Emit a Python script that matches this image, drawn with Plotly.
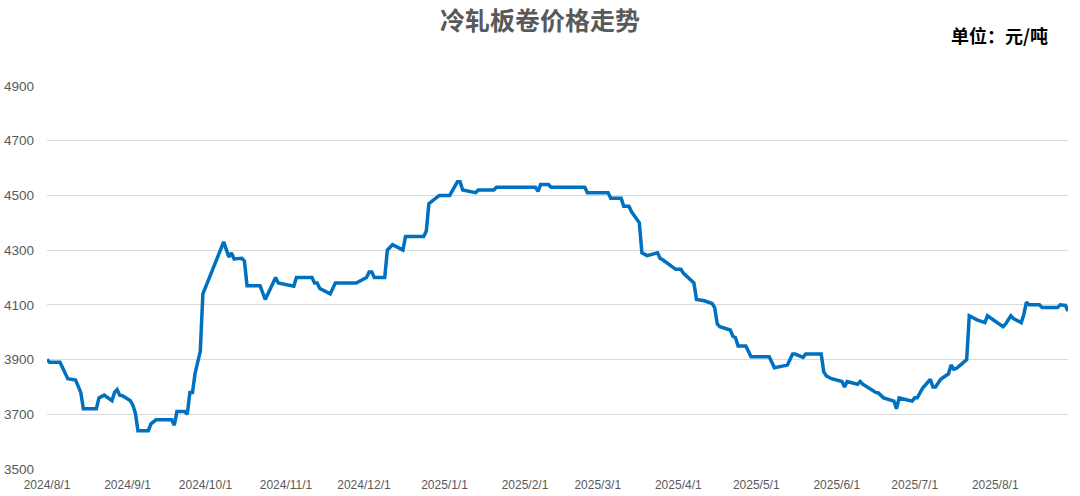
import plotly.graph_objects as go

dates = [
    "2024-08-01", "2024-08-02", "2024-08-06", "2024-08-09", "2024-08-12", "2024-08-13", "2024-08-14", "2024-08-15",
    "2024-08-20", "2024-08-21", "2024-08-23", "2024-08-26", "2024-08-27", "2024-08-28", "2024-08-29", "2024-08-30",
    "2024-09-02", "2024-09-03", "2024-09-04", "2024-09-05", "2024-09-09", "2024-09-10", "2024-09-12", "2024-09-18",
    "2024-09-19", "2024-09-20", "2024-09-23", "2024-09-24", "2024-09-25", "2024-09-26", "2024-09-27", "2024-09-29",
    "2024-09-30", "2024-10-08", "2024-10-10", "2024-10-11", "2024-10-12", "2024-10-15", "2024-10-16", "2024-10-17",
    "2024-10-22", "2024-10-24", "2024-10-28", "2024-10-29", "2024-11-01", "2024-11-04", "2024-11-05", "2024-11-11",
    "2024-11-12", "2024-11-13", "2024-11-14", "2024-11-18", "2024-11-20", "2024-11-28", "2024-12-02", "2024-12-03",
    "2024-12-04", "2024-12-05", "2024-12-09", "2024-12-10", "2024-12-12", "2024-12-16", "2024-12-17", "2024-12-24",
    "2024-12-25", "2024-12-26", "2024-12-30", "2025-01-03", "2025-01-06", "2025-01-07", "2025-01-08", "2025-01-13",
    "2025-01-14", "2025-01-20", "2025-01-21", "2025-02-05", "2025-02-06", "2025-02-07", "2025-02-10", "2025-02-11",
    "2025-02-24", "2025-02-25", "2025-03-05", "2025-03-06", "2025-03-10", "2025-03-11", "2025-03-13", "2025-03-14",
    "2025-03-17", "2025-03-18", "2025-03-20", "2025-03-24", "2025-03-25", "2025-03-26", "2025-03-31", "2025-04-02",
    "2025-04-03", "2025-04-07", "2025-04-08", "2025-04-11", "2025-04-14", "2025-04-15", "2025-04-16", "2025-04-17",
    "2025-04-21", "2025-04-22", "2025-04-23", "2025-04-24", "2025-04-27", "2025-04-29", "2025-05-06", "2025-05-07",
    "2025-05-08", "2025-05-12", "2025-05-13", "2025-05-15", "2025-05-16", "2025-05-19", "2025-05-20", "2025-05-26",
    "2025-05-27", "2025-05-28", "2025-05-30", "2025-06-03", "2025-06-04", "2025-06-05", "2025-06-09", "2025-06-10",
    "2025-06-11", "2025-06-16", "2025-06-17", "2025-06-19", "2025-06-23", "2025-06-24", "2025-06-25", "2025-06-27",
    "2025-06-30", "2025-07-01", "2025-07-02", "2025-07-03", "2025-07-04", "2025-07-07", "2025-07-08", "2025-07-09",
    "2025-07-11", "2025-07-14", "2025-07-15", "2025-07-16", "2025-07-17", "2025-07-18", "2025-07-21", "2025-07-22",
    "2025-07-25", "2025-07-28", "2025-07-29", "2025-08-04", "2025-08-05", "2025-08-07", "2025-08-08", "2025-08-11",
    "2025-08-12", "2025-08-13", "2025-08-14", "2025-08-18", "2025-08-19", "2025-08-25", "2025-08-26", "2025-08-28",
    "2025-08-29",
]

prices = [
    3900, 3890, 3890, 3830, 3825, 3805, 3780, 3720,
    3720, 3760, 3770, 3750, 3780, 3790, 3770, 3768,
    3750, 3735, 3705, 3640, 3640, 3665, 3680, 3680,
    3660, 3710, 3710, 3700, 3780, 3780, 3850, 3930,
    4140, 4330, 4275, 4290, 4268, 4270, 4260, 4170,
    4170, 4120, 4200, 4180, 4175, 4168, 4200, 4200,
    4180, 4180, 4160, 4140, 4180, 4180, 4200, 4220,
    4220, 4200, 4200, 4300, 4320, 4300, 4350, 4350,
    4370, 4470, 4500, 4500, 4550, 4550, 4520, 4510,
    4520, 4520, 4530, 4530, 4515, 4540, 4540, 4530,
    4530, 4510, 4510, 4490, 4490, 4460, 4460, 4440,
    4400, 4290, 4280, 4290, 4270, 4265, 4230, 4230,
    4215, 4180, 4120, 4115, 4105, 4090, 4030, 4020,
    4008, 3985, 3980, 3950, 3950, 3910, 3910, 3890,
    3870, 3878, 3880, 3920, 3920, 3908, 3920, 3920,
    3855, 3840, 3830, 3820, 3800, 3820, 3810, 3820,
    3810, 3780, 3778, 3760, 3748, 3720, 3760, 3755,
    3748, 3760, 3760, 3778, 3795, 3828, 3800, 3800,
    3828, 3848, 3880, 3865, 3868, 3875, 3900, 4060,
    4045, 4035, 4060, 4020, 4030, 4060, 4050, 4035,
    4065, 4110, 4100, 4100, 4090, 4090, 4100, 4098,
    4078,
]

tick_dates = [
    "2024-08-01", "2024-09-01", "2024-10-01", "2024-11-01", "2024-12-01", "2025-01-01", "2025-02-01",
    "2025-03-01", "2025-04-01", "2025-05-01", "2025-06-01", "2025-07-01", "2025-08-01",
]
tick_labels = [
    "2024/8/1", "2024/9/1", "2024/10/1", "2024/11/1", "2024/12/1", "2025/1/1", "2025/2/1",
    "2025/3/1", "2025/4/1", "2025/5/1", "2025/6/1", "2025/7/1", "2025/8/1",
]
y_ticks = [3500, 3700, 3900, 4100, 4300, 4500, 4700, 4900]

title_text = "冷轧板卷价格走势"
unit_text = "单位：元/吨"

fig = go.Figure()
fig.add_trace(go.Scatter(
    x=dates, y=prices, mode="lines",
    line=dict(color="#0070C0", width=3.5),
    hoverinfo="x+y", showlegend=False,
))

fig.update_layout(
    width=1080, height=496,
    margin=dict(l=47, r=12, t=86, b=27, autoexpand=False),
    paper_bgcolor="white", plot_bgcolor="white",
    title=dict(
        text=title_text, x=0.5, xref="container", xanchor="center",
        y=1 - 21.5 / 496, yref="container", yanchor="middle",
        font=dict(family="Noto Sans CJK SC", size=25, color="#595959", weight="bold"),
    ),
    annotations=[dict(
        text=unit_text, xref="paper", yref="paper",
        x=(1050 - 47) / 1021, y=(469 - 35) / 383,
        xanchor="right", yanchor="middle", showarrow=False,
        font=dict(family="Noto Sans CJK SC", size=18, color="#000000", weight="bold"),
    )],
    xaxis=dict(
        type="date", range=[dates[0], dates[-1]], automargin=False,
        tickmode="array", tickvals=tick_dates, ticktext=tick_labels,
        showgrid=False, zeroline=False, showline=False, ticks="",
        tickfont=dict(family="Liberation Sans", size=12, color="#595959"),
        ticklabelstandoff=7,
    ),
    yaxis=dict(
        range=[3500, 4900], tickmode="array", tickvals=y_ticks, automargin=False,
        showgrid=True, gridcolor="#D9D9D9", gridwidth=1,
        zeroline=False, showline=False, ticks="",
        tickfont=dict(family="Liberation Sans", size=13.5, color="#595959"),
        ticklabelstandoff=12,
    ),
)

fig.write_html(
    "out.html",
    config={"displayModeBar": False},
    post_script="document.body.style.margin='0';document.body.style.overflow='hidden';",
)
